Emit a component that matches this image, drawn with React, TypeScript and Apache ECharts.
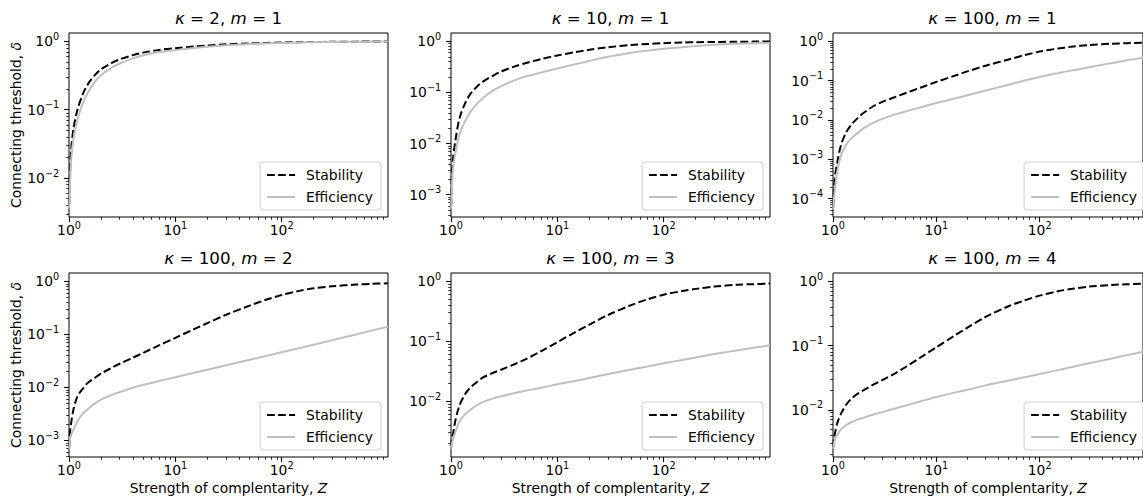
import React, { useEffect, useRef } from 'react';
import * as echarts from 'echarts';

// Strength of complementarity Z (shared sample points)
const Z = [1.005, 1.01, 1.02, 1.05, 1.1, 1.2, 1.35, 1.5, 1.75, 2, 2.5, 3, 4, 5, 7, 10, 15, 20, 30, 50, 70, 100, 150, 200, 300, 500, 700, 1000];

// Panel 1: kappa=2, m=1
const stabK2M1 = [0.0042, 0.0055, 0.011, 0.027, 0.052, 0.10, 0.17, 0.235, 0.32, 0.39, 0.48, 0.545, 0.63, 0.685, 0.75, 0.795, 0.845, 0.87, 0.905, 0.935, 0.95, 0.965, 0.975, 0.98, 0.987, 0.992, 0.994, 0.996];
const effK2M1 = [0.0036, 0.004, 0.0075, 0.019, 0.037, 0.072, 0.125, 0.175, 0.255, 0.32, 0.41, 0.475, 0.565, 0.625, 0.70, 0.745, 0.80, 0.835, 0.875, 0.915, 0.935, 0.95, 0.965, 0.972, 0.98, 0.988, 0.992, 0.994];
// Panel 2: kappa=10, m=1
const stabK10M1 = [0.0006, 0.0011, 0.0022, 0.0055, 0.0115, 0.031, 0.06, 0.09, 0.13, 0.163, 0.215, 0.26, 0.325, 0.375, 0.45, 0.53, 0.62, 0.685, 0.77, 0.85, 0.89, 0.925, 0.95, 0.963, 0.975, 0.985, 0.99, 0.993];
const effK10M1 = [0.00054, 0.0008, 0.0015, 0.0035, 0.0065, 0.015, 0.027, 0.04, 0.06, 0.078, 0.11, 0.135, 0.175, 0.205, 0.245, 0.295, 0.36, 0.415, 0.5, 0.6, 0.66, 0.715, 0.77, 0.81, 0.86, 0.9, 0.92, 0.935];
// Panel 3: kappa=100, m=1
const stabK100M1 = [0.00006, 0.00009, 0.00017, 0.0004, 0.00085, 0.0024, 0.005, 0.0075, 0.0115, 0.0155, 0.023, 0.029, 0.0385, 0.048, 0.066, 0.093, 0.133, 0.172, 0.24, 0.345, 0.44, 0.55, 0.655, 0.725, 0.805, 0.87, 0.9, 0.92];
const effK100M1 = [0.000055, 0.00007, 0.0001, 0.0002, 0.0005, 0.0013, 0.0024, 0.0034, 0.0048, 0.0063, 0.0087, 0.0107, 0.0139, 0.0165, 0.0209, 0.027, 0.035, 0.0425, 0.056, 0.079, 0.099, 0.124, 0.155, 0.18, 0.22, 0.28, 0.33, 0.385];
// Panel 4: kappa=100, m=2
const stabK100M2 = [0.00075, 0.001, 0.0014, 0.0022, 0.0038, 0.0068, 0.0095, 0.0122, 0.0152, 0.0182, 0.0232, 0.028, 0.0365, 0.045, 0.062, 0.086, 0.126, 0.163, 0.235, 0.35, 0.445, 0.555, 0.67, 0.74, 0.81, 0.87, 0.9, 0.92];
const effK100M2 = [0.0007, 0.00085, 0.00105, 0.0013, 0.0016, 0.0023, 0.0032, 0.0039, 0.005, 0.0059, 0.0072, 0.0082, 0.0099, 0.0112, 0.0132, 0.0156, 0.0189, 0.0216, 0.0262, 0.0333, 0.039, 0.0461, 0.0558, 0.064, 0.078, 0.1, 0.118, 0.14];
// Panel 5: kappa=100, m=3
const stabK100M3 = [0.0017, 0.002, 0.0024, 0.003, 0.0048, 0.0085, 0.013, 0.0165, 0.021, 0.025, 0.03, 0.034, 0.042, 0.05, 0.068, 0.097, 0.145, 0.19, 0.275, 0.405, 0.5, 0.6, 0.69, 0.75, 0.82, 0.88, 0.9, 0.92];
const effK100M3 = [0.00163, 0.0018, 0.002, 0.0024, 0.0031, 0.0046, 0.006, 0.0071, 0.0086, 0.0097, 0.0112, 0.0122, 0.0138, 0.015, 0.0168, 0.0192, 0.022, 0.0245, 0.0285, 0.034, 0.038, 0.043, 0.049, 0.054, 0.0615, 0.071, 0.078, 0.086];
// Panel 6: kappa=100, m=4
const stabK100M4 = [0.0026, 0.003, 0.0035, 0.0045, 0.0062, 0.0088, 0.0122, 0.0148, 0.018, 0.0205, 0.025, 0.029, 0.037, 0.046, 0.065, 0.094, 0.143, 0.19, 0.28, 0.41, 0.5, 0.6, 0.7, 0.76, 0.83, 0.88, 0.9, 0.92];
const effK100M4 = [0.00248, 0.0027, 0.003, 0.0035, 0.0041, 0.005, 0.0058, 0.0064, 0.0071, 0.0076, 0.0085, 0.0092, 0.0105, 0.0116, 0.0135, 0.0158, 0.0185, 0.0205, 0.024, 0.0285, 0.032, 0.036, 0.0415, 0.046, 0.053, 0.063, 0.071, 0.08];

const kappas = ['2', '10', '100', '100', '100', '100'];
const ms = ['1', '1', '1', '2', '3', '4'];
const stabilitySeries = [stabK2M1, stabK10M1, stabK100M1, stabK100M2, stabK100M3, stabK100M4];
const efficiencySeries = [effK2M1, effK10M1, effK100M1, effK100M2, effK100M3, effK100M4];

// Axis ranges and tick labels
const xMin = 1;
const xMax = 1000;
const xMajorTicks = [1, 10, 100];
const yMins = [2.69e-3, 3.66e-4, 3.41e-5, 4.88e-4, 1.18e-3, 1.84e-3];
const yMaxs = [1.327, 1.46, 1.63, 1.44, 1.38, 1.35];
const yMajorTicks = [
  [0.01, 0.1, 1],
  [0.001, 0.01, 0.1, 1],
  [0.0001, 0.001, 0.01, 0.1, 1],
  [0.001, 0.01, 0.1, 1],
  [0.01, 0.1, 1],
  [0.01, 0.1, 1],
];
const minorMultipliers = [2, 3, 4, 5, 6, 7, 8, 9];

const FONT = 'DejaVu Sans';
const fmtPow = (v: number) => {
  const e = Math.round(Math.log10(v));
  return `{b|10}{s|${e < 0 ? '−' + -e : e}}`;
};
const minorTicks = (lo: number, hi: number) => {
  const out: number[] = [];
  for (let e = Math.floor(Math.log10(lo)); e <= Math.ceil(Math.log10(hi)); e++) {
    for (const k of minorMultipliers) {
      const v = parseFloat((k * Math.pow(10, e)).toPrecision(6));
      if (v >= lo && v <= hi) out.push(v);
    }
  }
  return out;
};

const GRID_LEFT = [69, 451, 833];
const GRID_TOP = [33, 273];
const GRID_W = 319;
const GRID_H = 184;
const W = 1143;
const H = 500;

function buildOption() {
  const grid: any[] = [];
  const xAxis: any[] = [];
  const yAxis: any[] = [];
  const series: any[] = [];
  const legend: any[] = [];
  const graphic: any[] = [];
  const labelStyle = { fontSize: 13.9, color: '#000', fontFamily: FONT };
  const tickRich = {
    b: { fontSize: 13.9, color: '#000', fontFamily: FONT, lineHeight: 20 },
    s: { fontSize: 9.7, color: '#000', fontFamily: FONT, lineHeight: 12, verticalAlign: 'top' },
  };

  for (let p = 0; p < 6; p++) {
    const col = p % 3;
    const row = Math.floor(p / 3);
    const left = GRID_LEFT[col];
    const top = GRID_TOP[row];
    grid.push({ left, top, width: GRID_W, height: GRID_H, show: true, borderColor: '#000', borderWidth: 1, backgroundColor: '#fff' });

    const xName = row === 1 ? 'Strength of complentarity, {i|Z}' : '';
    const yName = col === 0 ? 'Connecting threshold, {i|δ}' : '';
    const nameStyle = { ...labelStyle, rich: { i: { ...labelStyle, fontStyle: 'italic' } } };

    xAxis.push({
      type: 'log', logBase: 10, gridIndex: p, min: xMin, max: xMax, position: 'bottom',
      axisLine: { show: false, onZero: false },
      splitLine: { show: false },
      axisTick: { show: true, customValues: xMajorTicks, length: 4.9, lineStyle: { color: '#000', width: 1.1 } },
      axisLabel: { show: true, customValues: xMajorTicks, formatter: fmtPow, margin: 3, ...labelStyle, rich: tickRich },
      name: xName, nameLocation: 'middle', nameGap: 24, nameTextStyle: nameStyle,
    });
    xAxis.push({
      type: 'log', logBase: 10, gridIndex: p, min: xMin, max: xMax, position: 'bottom',
      axisLine: { show: false, onZero: false },
      splitLine: { show: false },
      axisTick: { show: true, customValues: minorTicks(xMin, xMax), length: 2.8, lineStyle: { color: '#000', width: 0.8 } },
      axisLabel: { show: false },
    });
    yAxis.push({
      type: 'log', logBase: 10, gridIndex: p, min: yMins[p], max: yMaxs[p], position: 'left',
      axisLine: { show: false, onZero: false },
      splitLine: { show: false },
      axisTick: { show: true, customValues: yMajorTicks[p], length: 4.9, lineStyle: { color: '#000', width: 1.1 } },
      axisLabel: { show: true, customValues: yMajorTicks[p], formatter: fmtPow, margin: 9.8, ...labelStyle, rich: tickRich },
      name: yName, nameLocation: 'middle', nameGap: 44, nameTextStyle: nameStyle,
    });
    yAxis.push({
      type: 'log', logBase: 10, gridIndex: p, min: yMins[p], max: yMaxs[p], position: 'left',
      axisLine: { show: false, onZero: false },
      splitLine: { show: false },
      axisTick: { show: true, customValues: minorTicks(yMins[p], yMaxs[p]), length: 2.8, lineStyle: { color: '#000', width: 0.8 } },
      axisLabel: { show: false },
    });

    series.push({
      name: 'Stability', type: 'line', xAxisIndex: 2 * p, yAxisIndex: 2 * p,
      data: Z.map((z, i) => [z, stabilitySeries[p][i]]),
      symbol: 'none', showSymbol: false, clip: true, z: 2,
      smooth: 0.3,
      lineStyle: { color: '#000', width: 2, type: [7.7, 3.3] },
      itemStyle: { color: '#000' },
    });
    series.push({
      name: 'Efficiency', type: 'line', xAxisIndex: 2 * p, yAxisIndex: 2 * p,
      data: Z.map((z, i) => [z, efficiencySeries[p][i]]),
      symbol: 'none', showSymbol: false, clip: true, z: 3,
      smooth: 0.3,
      lineStyle: { color: '#bfbfbf', width: 2, type: 'solid' },
      itemStyle: { color: '#bfbfbf' },
    });

    legend.push({
      data: ['Stability', 'Efficiency'],
      orient: 'vertical',
      right: W - (left + GRID_W - 7),
      bottom: H - (top + GRID_H - 7),
      itemWidth: 28, itemHeight: 14, itemGap: 6,
      padding: [5, 8, 5, 6],
      backgroundColor: 'rgba(255,255,255,0.8)',
      borderColor: '#cccccc', borderWidth: 1, borderRadius: 3,
      selectedMode: false,
      itemStyle: { color: 'rgba(0,0,0,0)', borderWidth: 0, opacity: 0 },
      textStyle: { ...labelStyle, lineHeight: 16, padding: [0, 0, 0, 6] },
    });

    graphic.push({
      type: 'text',
      x: left + GRID_W / 2,
      y: top - 15,
      style: {
        text: `{i|κ} = ${kappas[p]}, {i|m} = ${ms[p]}`,
        align: 'center', verticalAlign: 'middle',
        fontSize: 16.7, fontFamily: FONT, fill: '#000',
        rich: {
          i: { fontSize: 16.7, fontFamily: FONT, fontStyle: 'italic', fill: '#000' },
        },
      },
    });
  }

  return {
    animation: false,
    backgroundColor: '#fff',
    grid, xAxis, yAxis, series, legend, graphic,
  };
}

export default function App() {
  const ref = useRef<HTMLDivElement>(null);
  useEffect(() => {
    if (!ref.current) return;
    const chart = echarts.init(ref.current, undefined, { renderer: 'svg' });
    chart.setOption(buildOption() as any);
    return () => chart.dispose();
  }, []);
  return <div ref={ref} style={{ position: 'absolute', left: 0, top: 0, width: W, height: H }} />;
}
